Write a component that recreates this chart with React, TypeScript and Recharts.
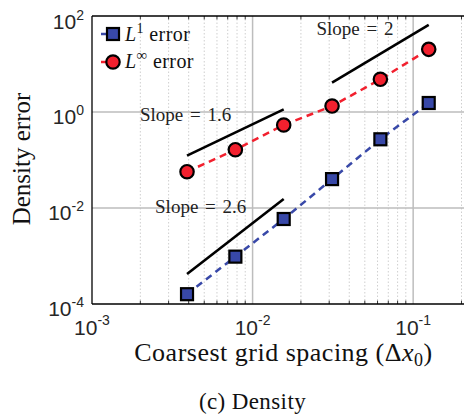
import React from "react";
import { ComposedChart, Line, XAxis, YAxis, ReferenceLine, ReferenceDot } from "recharts";

// grid spacings (dx0) and the two error norms
const spacing = [1 / 256, 1 / 128, 1 / 64, 1 / 32, 1 / 16, 1 / 8];
const l1Error = [1.6e-4, 9.7e-4, 5.9e-3, 0.04, 0.27, 1.54];
const lInfError = [0.057, 0.164, 0.536, 1.33, 4.8, 20.2];

// reference slope segments
const slope16X = [1 / 256, 1 / 64];
const slope16Y = [0.123, 1.13];
const slope2X = [1 / 32, 1 / 8];
const slope2Y = [4.08, 65];
const slope26X = [1 / 256, 1 / 64];
const slope26Y = [4.2e-4, 0.0154];

const slopeText = ["Slope = 1.6", "Slope = 2", "Slope = 2.6"];
const slopeTextX = [0.00199, 0.025, 0.00247];
const slopeTextY = [0.65, 40, 0.00798];

const xTicks = [1e-3, 1e-2, 1e-1];
const yTicks = [1e-4, 1e-2, 1, 1e2];
const xMinor = [
  2e-3, 3e-3, 4e-3, 5e-3, 6e-3, 7e-3, 8e-3, 9e-3,
  2e-2, 3e-2, 4e-2, 5e-2, 6e-2, 7e-2, 8e-2, 9e-2, 0.2,
];

const W = 464;
const H = 411;
const RED = "#f2202e";
const BLUE = "#3848a8";
const SANS = "'Liberation Sans', Arial, sans-serif";
const SERIF = "'Liberation Serif', 'Times New Roman', serif";

const pairs = (xs: number[], ys: number[]) => xs.map((x, i) => ({ x, y: ys[i] }));
const l1Data = pairs(spacing, l1Error);
const lInfData = pairs(spacing, lInfError);

// short inward tick marks on the bottom and top frame (about 3px on a 48px decade)
const TICK = Math.pow(10, 0.07);

const Square = (p: any) =>
  p.cx == null ? null : (
    <rect key={p.key} x={p.cx - 6} y={p.cy - 6} width={12} height={12} fill={BLUE} stroke="#000" strokeWidth={2.2} />
  );

const Circle = (p: any) =>
  p.cx == null ? null : (
    <circle key={p.key} cx={p.cx} cy={p.cy} r={6.7} fill={RED} stroke="#000" strokeWidth={2.2} />
  );

const exponent = (v: number) => String(Math.round(Math.log10(v)));

const XTick = ({ x, y, payload }: any) => (
  <text x={x} y={y + 31} textAnchor="middle" fontFamily={SANS} fontSize={21} fill="#262626">
    10
    <tspan dy={-10} fontSize={14}>{exponent(payload.value)}</tspan>
  </text>
);

const YTick = ({ x, y, payload }: any) => (
  <text x={x - 8} y={y + 12} textAnchor="end" fontFamily={SANS} fontSize={21} fill="#262626">
    10
    <tspan dy={-9} fontSize={14}>{exponent(payload.value)}</tspan>
  </text>
);

const SlopeLabel = (text: string) => (p: any) =>
  <text x={p.cx} y={p.cy} fontFamily={SERIF} fontSize={19} wordSpacing={2} fill="#222">{text}</text>;

export default function App() {
  return (
    <div style={{ position: "relative", width: W, height: H }}>
      <ComposedChart width={W} height={H} margin={{ top: 8, right: 0, bottom: 0, left: 0 }}>
        <XAxis
          type="number"
          dataKey="x"
          scale="log"
          domain={[1e-3, 0.2325]}
          allowDataOverflow
          ticks={xTicks}
          tick={<XTick />}
          tickLine={false}
          tickSize={0}
          tickMargin={0}
          height={115}
          axisLine={{ stroke: "#000", strokeWidth: 1.3 }}
        />
        <YAxis
          type="number"
          dataKey="y"
          scale="log"
          domain={[1e-4, 1e2]}
          allowDataOverflow
          ticks={yTicks}
          tick={<YTick />}
          tickLine={false}
          tickSize={0}
          tickMargin={0}
          width={84}
          axisLine={{ stroke: "#000", strokeWidth: 1.3 }}
        />
        {xMinor.map((v) => (
          <ReferenceLine key={"m" + v} x={v} stroke="#cfcfcf" strokeDasharray="1.5 2" />
        ))}
        {[1e-2, 1e-1].map((v) => (
          <ReferenceLine key={"gx" + v} x={v} stroke="#bdbdbd" strokeWidth={1.5} />
        ))}
        {[1e-2, 1].map((v) => (
          <ReferenceLine key={"gy" + v} y={v} stroke="#bdbdbd" strokeWidth={1.5} />
        ))}
        {xMinor.map((v) => (
          <ReferenceLine key={"tb" + v} segment={[{ x: v, y: 1e-4 }, { x: v, y: 1e-4 * TICK }]} stroke="#333" />
        ))}
        {xMinor.map((v) => (
          <ReferenceLine key={"tt" + v} segment={[{ x: v, y: 1e2 / TICK }, { x: v, y: 1e2 }]} stroke="#333" />
        ))}
        <ReferenceLine y={1e2} stroke="#000" strokeWidth={1.3} />

        <Line data={pairs(slope16X, slope16Y)} dataKey="y" stroke="#000" strokeWidth={2.6} dot={false} isAnimationActive={false} />
        <Line data={pairs(slope2X, slope2Y)} dataKey="y" stroke="#000" strokeWidth={2.6} dot={false} isAnimationActive={false} />
        <Line data={pairs(slope26X, slope26Y)} dataKey="y" stroke="#000" strokeWidth={2.6} dot={false} isAnimationActive={false} />

        <Line
          data={l1Data}
          dataKey="y"
          stroke={BLUE}
          strokeWidth={2.5}
          strokeDasharray="7 5"
          dot={Square}
          isAnimationActive={false}
        />
        <Line
          data={lInfData}
          dataKey="y"
          stroke={RED}
          strokeWidth={2.5}
          strokeDasharray="7 5"
          dot={Circle}
          isAnimationActive={false}
        />

        {slopeText.map((t, i) => (
          <ReferenceDot key={t} x={slopeTextX[i]} y={slopeTextY[i]} r={0} shape={SlopeLabel(t)} />
        ))}
      </ComposedChart>

      <svg width={W} height={H} style={{ position: "absolute", left: 0, top: 0, pointerEvents: "none" }}>
        {/* legend */}
        <line x1={93} x2={100} y1={26} y2={26} stroke={BLUE} strokeWidth={2.5} />
        <rect x={99} y={20} width={12} height={12} fill={BLUE} stroke="#000" strokeWidth={2.2} />
        <text x={117} y={33} fontFamily={SERIF} fontSize={20} letterSpacing={0.4} fill="#111">
          <tspan fontStyle="italic">L</tspan>
          <tspan dy={-8} fontSize={14}>1</tspan>
          <tspan dy={8}> error</tspan>
        </text>
        <line x1={93} x2={100} y1={54} y2={54} stroke={RED} strokeWidth={2.5} />
        <circle cx={105} cy={54} r={6.7} fill={RED} stroke="#000" strokeWidth={2.2} />
        <text x={117} y={60} fontFamily={SERIF} fontSize={20} letterSpacing={0.4} fill="#111">
          <tspan fontStyle="italic">L</tspan>
          <tspan dy={-8} fontSize={15}>∞</tspan>
          <tspan dy={8}> error</tspan>
        </text>

        {/* axis titles and caption */}
        <text x={275.5} y={353} textAnchor="middle" fontFamily={SERIF} fontSize={26} letterSpacing={0.5} fill="#111">
          Coarsest grid spacing (Δ<tspan fontStyle="italic">x</tspan>
          <tspan dy={5} fontSize={18}>0</tspan>
          <tspan dy={-5}>)</tspan>
        </text>
        <text transform="translate(22,151) rotate(-90)" textAnchor="middle" fontFamily={SERIF} fontSize={25} fill="#111">
          Density error
        </text>
        <text x={244.5} y={401} textAnchor="middle" fontFamily={SERIF} fontSize={23} letterSpacing={0.4} fill="#111">
          (c) Density
        </text>
      </svg>
    </div>
  );
}
